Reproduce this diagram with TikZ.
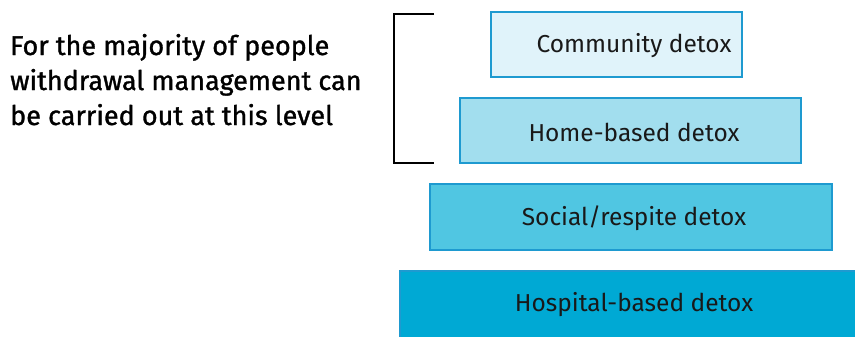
\documentclass[tikz,border=0pt]{standalone}
\usepackage{fontspec}
\setmainfont{Fira Sans}
\newfontfamily\medfont[FakeBold=1.2]{Fira Sans}
\definecolor{bord}{HTML}{1E9AD0}
\definecolor{c1}{HTML}{E0F3FA}
\definecolor{c2}{HTML}{A2DEEE}
\definecolor{c3}{HTML}{50C6E2}
\definecolor{c4}{HTML}{00A9D4}
\tikzset{
  lvl/.style={draw=bord, line width=1.6pt},
  lbl/.style={inner sep=0pt, font=\fontsize{24.5}{28}\selectfont, text=black!90},
  brk/.style={draw=black, line width=1.6pt},
}
\begin{document}
\begin{tikzpicture}[x=1pt,y=-1pt]
\useasboundingbox (0,0) rectangle (855,337);
\fill[white] (0,0) rectangle (855,337);
\draw[lvl, fill=c1] (491,12) rectangle (742,77);
\node[lbl] (a) at (634,46) {Community detox};
\draw[lvl, fill=c2] (460,98) rectangle (801,163);
\node[lbl] (b) at (634,132) {Home-based detox};
\draw[lvl, fill=c3] (430,184) rectangle (832,250);
\node[lbl] (c) at (634,218) {Social/respite detox};
\draw[lvl, fill=c4] (400,271) rectangle (857,339);
\node[lbl] (d) at (634,305) {Hospital-based detox};
\coordinate (t) at (434,14);
\coordinate (bt) at (434,163);
\draw[brk] (t) -- (394,14) -- (394,163) -- (bt);
\node[anchor=base west, align=left, inner sep=0pt, font=\fontsize{27}{35}\selectfont\medfont] (txt) at (10,125) {For the majority of people\\withdrawal management can\\be carried out at this level};
\end{tikzpicture}
\end{document}
